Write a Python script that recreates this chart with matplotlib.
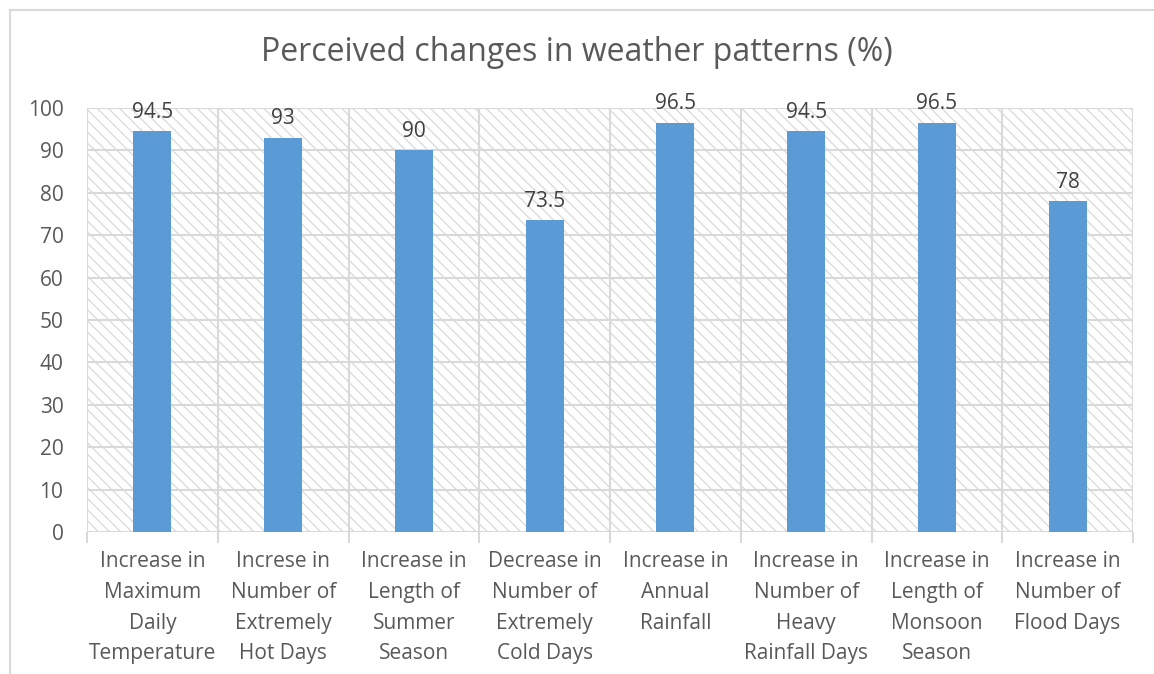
import numpy as np
import matplotlib.pyplot as plt
from matplotlib.patches import Rectangle
from matplotlib.lines import Line2D

# 데이터
categories = [
    "Increase in\nMaximum\nDaily\nTemperature",
    "Increse in\nNumber of\nExtremely\nHot Days",
    "Increase in\nLength of\nSummer\nSeason",
    "Decrease in\nNumber of\nExtremely\nCold Days",
    "Increase in\nAnnual\nRainfall",
    "Increase in\nNumber of\nHeavy\nRainfall Days",
    "Increase in\nLength of\nMonsoon\nSeason",
    "Increase in\nNumber of\nFlood Days",
]
values = [94.5, 93, 90, 73.5, 96.5, 94.5, 96.5, 78]
yticks = [0, 10, 20, 30, 40, 50, 60, 70, 80, 90, 100]

plt.rcParams['font.family'] = ['Open Sans', 'DejaVu Sans']
plt.rcParams['hatch.linewidth'] = 0.9

grid_col = "#d9d9d9"
text_col = "#595959"
bar_col = "#5b9bd5"

fig = plt.figure(figsize=(11.54, 6.74), dpi=100)
ax = fig.add_axes([0.0754, 0.2107, 0.9064, 0.6291])

x = np.arange(len(categories))

# 배경 해칭
bg = Rectangle((0, 0), 1, 1, transform=ax.transAxes, facecolor="white",
               edgecolor=grid_col, hatch="\\\\\\", linewidth=0, zorder=0)
ax.add_patch(bg)

ax.bar(x, values, width=0.29, color=bar_col, zorder=3)

for xi, v in zip(x, values):
    ax.text(xi, v + 2.0, f"{v:g}", ha="center", va="bottom",
            fontsize=15, color="#404040", zorder=4)

ax.set_xlim(-0.5, len(categories) - 0.5)
ax.set_ylim(0, 100)
ax.set_yticks(yticks)
ax.set_yticklabels([str(t) for t in yticks])

# 그리드
for t in yticks:
    ax.axhline(t, color=grid_col, linewidth=1.5, zorder=1)
for b in np.arange(-0.5, len(categories), 1.0):
    ax.axvline(b, color=grid_col, linewidth=1.5, zorder=1)

for s in ax.spines.values():
    s.set_visible(False)

ax.set_xticks(np.arange(-0.5, len(categories), 1.0), minor=False)
ax.set_xticklabels([])
ax.tick_params(axis="x", length=8, width=1.5, color=grid_col)
ax.set_xticks(x, minor=True)
ax.set_xticklabels(categories, minor=True, fontsize=15, color=text_col,
                   linespacing=1.6, ha="center", va="top")
ax.tick_params(axis="x", which="minor", length=0, pad=14)
ax.tick_params(axis="y", length=0, labelsize=15, labelcolor=text_col, pad=17)

fig.text(0.5, 0.922, "Perceived changes in weather patterns (%)",
         ha="center", va="center", fontsize=23, color=text_col)

# 차트 테두리
fig.add_artist(Line2D([0.0087, 1.0], [0.985, 0.985], transform=fig.transFigure,
                      color=grid_col, linewidth=1.5))
fig.add_artist(Line2D([0.0087, 0.0087], [0.0, 0.985], transform=fig.transFigure,
                      color=grid_col, linewidth=1.5))

fig.savefig("out.png", dpi=100)
